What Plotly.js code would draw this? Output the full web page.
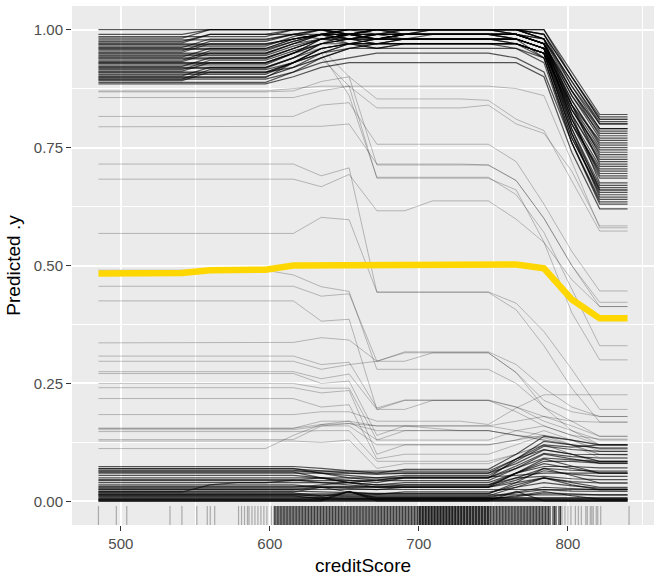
<!DOCTYPE html>
<html><head><meta charset="utf-8">
<script src="https://cdn.plot.ly/plotly-3.0.1.min.js"></script>
<style>html,body{margin:0;padding:0;background:#fff}</style>
</head><body><div id="chart" style="width:654px;height:576px"></div>
<script>
// grid of creditScore values used for the ICE / PDP curves
const gridX = [485,503.7,522.4,541.1,559.7,578.4,597.1,615.8,634.5,653.2,671.8,690.5,709.2,727.9,746.6,765.3,783.9,802.6,821.3,840];

// partial dependence (average) curve
const pdpY = [0.483,0.483,0.483,0.484,0.49,0.491,0.491,0.5,0.5,0.5,0.5,0.5,0.5,0.5,0.5,0.502,0.494,0.428,0.388,0.388];

// ICE curves – high group
const iceHigh = [
[1,1,1,1,1,1,1,1,1,1,1,1,1,1,1,1,1,.91,.82,.82],
[.982,.982,.982,.982,1,1,1,1,1,1,1,1,1,1,1,1,.99,.9,.81,.81],
[.978,.978,.978,.978,.978,.978,.978,.99,1,.99,.98,.99,.99,.99,.99,.99,.98,.89,.8,.8],
[.972,.972,.972,.972,.99,.99,.99,1,1,.99,1,1,1,1,1,.99,.98,.88,.79,.79],
[.968,.968,.968,.968,.968,.968,.968,.98,.99,.98,.99,.99,.99,.99,.99,.99,.97,.86,.78,.78],
[.962,.962,.962,.962,.98,.98,.98,.99,1,1,.99,1,1,1,1,1,.98,.87,.775,.775],
[.958,.958,.958,.958,.958,.958,.958,.975,.99,.98,.97,.98,.98,.98,.98,.97,.95,.84,.765,.765],
[.952,.952,.952,.952,.97,.97,.97,.98,.99,1,1,.99,.99,.99,.99,.99,.97,.85,.755,.755],
[.948,.948,.948,.948,.948,.948,.948,.97,.98,.97,.96,.97,.97,.97,.97,.97,.95,.83,.745,.745],
[.942,.942,.942,.942,.96,.96,.96,.98,.99,.99,.98,.99,.99,.99,.99,.99,.97,.84,.735,.735],
[.938,.938,.938,.938,.938,.938,.938,.96,.98,.98,.99,.99,.99,.99,.99,.98,.96,.82,.725,.725],
[.932,.932,.932,.932,.95,.95,.95,.97,.99,1,1,1,1,1,1,1,.98,.84,.715,.715],
[.928,.928,.928,.928,.928,.928,.928,.95,.97,.97,.96,.97,.97,.97,.97,.97,.95,.8,.705,.705],
[.922,.922,.922,.922,.94,.94,.94,.96,.98,.99,.99,.99,.99,.99,.99,.98,.96,.81,.695,.695],
[.918,.918,.918,.918,.918,.918,.918,.94,.97,.98,.98,.99,.99,.99,.99,.99,.97,.8,.685,.685],
[.912,.912,.912,.912,.93,.93,.93,.95,.98,.99,1,1,1,1,1,1,.98,.82,.675,.675],
[.908,.908,.908,.908,.908,.908,.908,.93,.96,.97,.97,.97,.97,.97,.97,.97,.95,.78,.665,.665],
[.902,.902,.902,.902,.92,.92,.92,.94,.97,.98,.98,.98,.98,.98,.98,.98,.96,.79,.66,.66],
[.898,.898,.898,.898,.898,.898,.898,.93,.96,.97,.98,.98,.98,.98,.98,.98,.94,.77,.655,.655],
[.892,.892,.892,.892,.91,.91,.91,.92,.95,.97,.97,.97,.97,.97,.97,.97,.95,.78,.645,.645],
[.888,.888,.888,.888,.888,.888,.888,.91,.94,.96,.97,.97,.97,.97,.97,.96,.93,.76,.635,.635],
[.985,.985,.985,.985,.985,.985,.985,1,1,.98,.99,1,1,1,1,1,.99,.9,.815,.815],
[.975,.975,.975,.975,.99,.99,.99,.99,.98,.99,1,.99,1,1,1,1,.98,.89,.805,.805],
[.965,.965,.965,.965,.965,.965,.965,.985,1,.99,.98,.99,1,1,1,.99,.97,.87,.79,.79],
[.955,.955,.955,.955,.975,.975,.975,.99,.99,.98,.99,.99,.99,.99,.99,.99,.97,.86,.77,.77],
[.945,.945,.945,.945,.945,.945,.945,.965,.98,.99,.99,.98,.98,.98,.98,.98,.96,.84,.75,.75],
[.935,.935,.935,.935,.955,.955,.955,.975,.99,.97,.98,.99,.99,.99,.99,.99,.97,.83,.73,.73],
[.925,.925,.925,.925,.925,.925,.925,.95,.98,.98,.97,.98,.98,.98,.98,.98,.96,.81,.71,.71],
[.915,.915,.915,.915,.935,.935,.935,.955,.97,.99,.99,.99,.99,.99,.99,.99,.97,.81,.69,.69],
[.905,.905,.905,.905,.905,.905,.905,.93,.96,.97,.98,.98,.98,.98,.98,.97,.95,.79,.67,.67],
[.895,.895,.895,.895,.915,.915,.915,.93,.95,.96,.97,.97,.97,.97,.97,.97,.95,.78,.65,.65],
[.96,.96,.96,.96,.96,.96,.96,.98,.99,1,1,1,1,1,1,1,.99,.88,.8,.8],
[.95,.95,.95,.95,.95,.95,.95,.97,.99,.99,.98,.99,.99,.99,.99,.98,.96,.85,.76,.76],
[.94,.94,.94,.94,.94,.94,.94,.96,.98,.99,1,1,1,1,1,.99,.97,.83,.74,.74],
[.93,.93,.93,.93,.93,.93,.93,.95,.97,.98,.98,.98,.98,.98,.98,.98,.96,.82,.72,.72],
[.92,.92,.92,.92,.92,.92,.92,.94,.96,.97,.97,.98,.98,.98,.98,.98,.96,.8,.7,.7],
[.97,.97,.97,.97,.97,.97,.97,.98,.99,.99,.98,.98,.99,.99,.99,.99,.97,.87,.785,.785],
[.99,.99,.99,.99,1,1,1,1,1,.99,1,1,1,1,1,1,1,.9,.81,.81],
[.9,.9,.9,.9,.9,.9,.9,.92,.94,.96,.96,.96,.96,.96,.96,.96,.94,.76,.64,.64],
[.91,.91,.91,.91,.91,.91,.91,.93,.95,.97,.97,.97,.97,.97,.97,.97,.94,.77,.66,.66],
[.885,.885,.885,.885,.885,.885,.885,.9,.92,.93,.93,.93,.93,.93,.93,.93,.9,.74,.62,.62],
[.895,.895,.895,.895,.895,.895,.895,.91,.93,.94,.95,.95,.95,.95,.95,.94,.91,.76,.63,.63]
];

// ICE curves – middle group
const iceMid = [
[.87,.87,.87,.87,.87,.87,.87,.875,.88,.88,.88,.88,.88,.88,.88,.875,.86,.72,.58,.58],
[.868,.868,.868,.868,.868,.868,.868,.87,.89,.9,.853,.853,.853,.853,.85,.81,.786,.68,.573,.573],
[.856,.856,.856,.856,.856,.856,.856,.856,.87,.88,.834,.834,.834,.834,.84,.8,.78,.7,.584,.584],
[.816,.816,.816,.816,.816,.816,.816,.816,.84,.845,.757,.757,.757,.757,.757,.72,.63,.53,.446,.446],
[.794,.794,.794,.794,.794,.794,.794,.794,.795,.8,.715,.715,.715,.715,.713,.68,.6,.5,.422,.422],
[.715,.715,.715,.715,.715,.715,.715,.715,.69,.707,.443,.443,.443,.443,.443,.406,.33,.24,.168,.168],
[.683,.683,.683,.683,.683,.683,.683,.683,.667,.693,.616,.616,.637,.637,.637,.598,.549,.47,.413,.413],
[.93,.93,.93,.93,.93,.93,.93,.95,.96,.9,.713,.713,.713,.713,.713,.68,.6,.5,.413,.413],
[.9,.9,.9,.9,.9,.9,.9,.92,.94,.88,.685,.685,.685,.685,.685,.66,.55,.4,.3,.3],
[.91,.91,.91,.91,.91,.91,.91,.93,.95,.86,.687,.687,.687,.687,.687,.65,.57,.45,.33,.33],
[.568,.568,.568,.568,.568,.568,.568,.568,.602,.597,.444,.444,.444,.444,.444,.42,.36,.28,.195,.195],
[.456,.456,.456,.456,.456,.456,.456,.456,.435,.44,.297,.297,.315,.315,.315,.273,.2,.15,.12,.12],
[.425,.425,.425,.425,.425,.425,.425,.425,.382,.386,.195,.195,.214,.214,.214,.19,.16,.14,.132,.132],
[.49,.49,.49,.49,.49,.49,.49,.48,.455,.445,.28,.28,.28,.28,.28,.25,.2,.17,.138,.138],
[.336,.336,.336,.336,.336,.336,.336,.337,.347,.342,.297,.317,.317,.317,.317,.29,.24,.2,.18,.18],
[.308,.308,.308,.308,.308,.308,.308,.308,.29,.295,.198,.215,.215,.215,.215,.2,.17,.15,.13,.13],
[.297,.297,.297,.297,.297,.297,.297,.297,.28,.29,.297,.315,.315,.315,.315,.273,.214,.19,.18,.18],
[.275,.275,.275,.275,.275,.275,.275,.275,.26,.27,.195,.214,.214,.214,.214,.2,.18,.17,.168,.168],
[.271,.271,.271,.271,.271,.271,.271,.271,.25,.255,.14,.16,.16,.16,.16,.15,.14,.13,.12,.12],
[.25,.25,.25,.25,.25,.25,.25,.25,.24,.24,.13,.15,.15,.15,.15,.14,.13,.12,.113,.113],
[.241,.241,.241,.241,.241,.241,.241,.241,.23,.235,.1,.12,.12,.12,.12,.13,.15,.13,.11,.11],
[.218,.218,.218,.218,.218,.218,.218,.218,.2,.205,.09,.1,.1,.1,.1,.12,.14,.12,.1,.1],
[.184,.184,.184,.184,.184,.184,.184,.184,.19,.19,.17,.17,.17,.17,.163,.198,.226,.226,.226,.226],
[.155,.155,.155,.155,.155,.155,.155,.155,.163,.17,.16,.16,.16,.16,.16,.17,.18,.16,.138,.138],
[.155,.155,.155,.155,.155,.155,.155,.155,.17,.17,.13,.13,.13,.13,.13,.15,.16,.14,.12,.12],
[.152,.152,.152,.152,.152,.152,.152,.152,.16,.16,.12,.12,.12,.12,.12,.13,.14,.13,.106,.106],
[.131,.131,.131,.131,.131,.131,.131,.131,.16,.165,.16,.16,.155,.15,.15,.14,.13,.12,.099,.099],
[.112,.112,.112,.112,.112,.112,.112,.14,.163,.165,.15,.15,.15,.15,.15,.14,.135,.12,.092,.092],
[.148,.148,.148,.148,.148,.148,.148,.148,.15,.15,.085,.085,.085,.085,.085,.1,.12,.1,.085,.085],
[.128,.128,.128,.128,.128,.128,.128,.128,.125,.13,.07,.08,.08,.08,.08,.1,.12,.1,.08,.08]
];

// ICE curves – low group
const iceLow = [
[.074,.074,.074,.074,.074,.074,.074,.074,.07,.065,.06,.068,.068,.068,.068,.1,.138,.13,.12,.12],
[.069,.069,.069,.069,.069,.069,.069,.069,.065,.06,.057,.06,.06,.06,.06,.09,.127,.12,.113,.113],
[.066,.066,.066,.066,.066,.066,.066,.066,.06,.055,.05,.055,.055,.055,.055,.085,.117,.11,.106,.106],
[.06,.06,.06,.06,.06,.06,.06,.06,.06,.06,.06,.06,.06,.06,.06,.08,.109,.1,.099,.099],
[.055,.055,.055,.055,.055,.055,.055,.055,.05,.045,.04,.05,.05,.05,.05,.075,.102,.095,.092,.092],
[.05,.05,.05,.05,.05,.05,.05,.05,.05,.05,.05,.05,.05,.05,.05,.07,.092,.088,.085,.085],
[.046,.046,.046,.046,.046,.046,.046,.046,.04,.035,.03,.03,.03,.03,.03,.06,.085,.085,.081,.081],
[.04,.04,.04,.04,.04,.04,.04,.04,.04,.04,.035,.04,.04,.04,.04,.06,.074,.074,.071,.071],
[.035,.035,.035,.035,.035,.035,.035,.035,.03,.028,.025,.03,.03,.03,.03,.05,.07,.066,.064,.064],
[.03,.03,.03,.03,.03,.03,.03,.03,.035,.04,.045,.052,.052,.052,.052,.055,.06,.06,.06,.06],
[.028,.028,.028,.028,.028,.028,.028,.028,.03,.03,.03,.03,.03,.03,.03,.045,.065,.058,.053,.053],
[.025,.025,.025,.025,.025,.025,.025,.025,.03,.03,.03,.035,.035,.035,.035,.05,.053,.048,.046,.046],
[.022,.022,.022,.022,.022,.022,.022,.022,.02,.018,.017,.017,.017,.017,.017,.035,.05,.042,.039,.039],
[.02,.02,.02,.02,.02,.02,.02,.02,.03,.02,.015,.02,.02,.02,.02,.03,.04,.033,.028,.028],
[.018,.018,.018,.018,.018,.018,.018,.018,.012,.01,.01,.01,.01,.01,.01,.02,.03,.027,.025,.025],
[.015,.015,.015,.015,.015,.015,.015,.015,.01,.02,.008,.008,.008,.008,.008,.018,.025,.022,.021,.021],
[.012,.012,.012,.012,.012,.012,.012,.012,.005,.021,.005,.005,.005,.005,.005,.012,.021,.012,.005,.005],
[.01,.01,.01,.01,.01,.01,.01,.01,.008,.006,.006,.006,.006,.006,.006,.01,.018,.016,.014,.014],
[.008,.008,.008,.008,.008,.008,.008,.008,.008,.008,.008,.008,.008,.008,.008,.008,.008,.008,.008,.008],
[.006,.006,.006,.006,.006,.006,.006,.006,.006,.006,.006,.006,.006,.006,.006,.006,.006,.006,.006,.006],
[.004,.004,.004,.004,.004,.004,.004,.004,.004,.004,.004,.004,.004,.004,.003,.003,.003,.003,.003,.003],
[.002,.002,.002,.002,.002,.002,.002,.002,.002,.002,.002,.002,.002,.002,.002,.002,.002,.002,.002,.002],
[0,0,0,0,0,0,0,0,0,0,0,0,0,0,0,0,0,0,0,0],
[.001,.001,.001,.001,.001,.001,.001,.001,.001,.021,.001,.001,.001,.001,.001,.021,.001,.001,.001,.001],
[.07,.07,.07,.07,.07,.07,.07,.07,.06,.05,.045,.05,.05,.05,.05,.09,.12,.115,.12,.12],
[.064,.064,.064,.064,.064,.064,.064,.064,.064,.064,.064,.064,.064,.064,.064,.09,.11,.1,.085,.085],
[.044,.044,.044,.044,.044,.044,.044,.044,.044,.044,.044,.044,.044,.044,.044,.07,.1,.09,.081,.081],
[.032,.032,.032,.032,.032,.032,.032,.032,.032,.032,.032,.032,.032,.032,.032,.06,.09,.075,.06,.06],
[.016,.016,.016,.016,.016,.016,.016,.016,.016,.016,.016,.016,.016,.016,.016,.04,.07,.055,.039,.039],
[.012,.012,.012,.012,.012,.012,.012,.012,.012,.012,.012,.012,.012,.012,.012,.03,.05,.035,.025,.025],
[.026,.026,.026,.026,.026,.026,.026,.026,.026,.026,.026,.026,.026,.026,.026,.025,.025,.025,.025,.025],
[.014,.014,.014,.014,.014,.014,.014,.014,.014,.014,.014,.014,.014,.014,.014,.014,.014,.014,.014,.014],
[.003,.003,.003,.003,.003,.003,.003,.003,.003,.003,.003,.003,.003,.003,.003,.003,.003,.003,.003,.003],
[.005,.005,.005,.005,.005,.005,.005,.005,.005,.005,.005,.005,.005,.005,.005,.005,.005,.005,.005,.005],
[.02,.02,.02,.02,.035,.04,.04,.045,.05,.04,.03,.03,.03,.03,.03,.04,.05,.04,.03,.03],
[.062,.062,.062,.062,.062,.062,.062,.062,.05,.04,.035,.035,.035,.035,.035,.06,.08,.07,.06,.06]
];

// observed creditScore values (rug): sparse tails and dense core
const rugSparse = [485,497,504,533,541,551,558,560,563,579,581,583,585,586,588,590,592,594,596,598,601,
796,798,800,802,805,807,809,812,813,815,816,817,819,820,822,841];
const rugDense = [603,604,605,606,607,608,609,610,611,612,613,614,615,616,617,618,619,620,621,622,623,624,625,626,627,628,629,630,631,632,633,634,635,636,637,638,639,640,641,642,643,644,645,646,647,648,649,650,651,652,653,654,655,656,657,658,659,660,661,662,663,664,665,666,667,668,669,670,671,672,673,674,675,676,677,678,679,680,681,682,683,684,685,686,687,688,689,690,691,692,693,694,695,696,697,698,699,
700,700.5,701,702,702.5,703,704,704.5,705,706,706.5,707,708,708.5,709,710,710.5,711,712,712.5,713,714,714.5,715,716,716.5,717,718,718.5,719,720,720.5,721,722,722.5,723,724,724.5,725,726,726.5,727,728,728.5,729,730,730.5,731,732,732.5,733,734,734.5,735,736,736.5,737,738,738.5,739,740,740.5,741,742,742.5,743,744,744.5,745,746,746.5,747,748,749,
750,751,752,753,754,755,756,757,758,759,760,761,762,763,764,765,766,767,768,769,770,771,772,773,774,775,776,777,778,779,780,781,782,783,784,785,786,787,788,790,791,792,794,795];

const traces = [];
function addGroup(arr, color, width) {
  arr.forEach(yv => traces.push({
    x: gridX, y: yv, type: 'scatter', mode: 'lines',
    line: {color: color, width: width}, hoverinfo: 'skip', showlegend: false
  }));
}
addGroup(iceHigh, 'rgba(0,0,0,0.65)', 1.2);
addGroup(iceMid, 'rgba(0,0,0,0.27)', 0.9);
addGroup(iceLow, 'rgba(0,0,0,0.65)', 1.2);
traces.push({x: gridX, y: pdpY, type: 'scatter', mode: 'lines',
  line: {color: '#FFD700', width: 6.5}, showlegend: false});
function addRug(xs, color) {
  traces.push({x: xs, y: xs.map(() => -0.0335), type: 'scatter', mode: 'markers',
    marker: {symbol: 'line-ns-open', size: 16, color: color, line: {color: color, width: 1.2}},
    showlegend: false, hoverinfo: 'skip'});
}
addRug(rugSparse, 'rgba(0,0,0,0.28)');
addRug(rugDense, 'rgba(0,0,0,0.75)');

const font = 'Liberation Sans, Arial, sans-serif';
const layout = {
  width: 654, height: 576,
  margin: {l: 72, r: 0, t: 6, b: 51},
  paper_bgcolor: '#FFFFFF', plot_bgcolor: '#EBEBEB',
  font: {family: font, color: '#4D4D4D'},
  showlegend: false,
  xaxis: {
    range: [467.25, 857.75], tickvals: [500, 600, 700, 800], ticktext: ['500','600','700','800'],
    ticks: 'outside', ticklen: 5, tickwidth: 1.1, tickcolor: '#333333',
    tickfont: {size: 15, color: '#4D4D4D', family: font},
    showgrid: true, gridcolor: '#FFFFFF', gridwidth: 2, zeroline: false, showline: false,
    minor: {tickvals: [550, 650, 750, 850], showgrid: true, gridcolor: '#FFFFFF', gridwidth: 1, ticks: ''},
    title: {text: 'creditScore', font: {size: 19, color: '#000000', family: font}, standoff: 7},
    automargin: false
  },
  yaxis: {
    range: [-0.05, 1.05], tickvals: [0, 0.25, 0.5, 0.75, 1], ticktext: ['0.00','0.25','0.50','0.75','1.00'],
    ticks: 'outside', ticklen: 5, tickwidth: 1.1, tickcolor: '#333333',
    tickfont: {size: 15, color: '#4D4D4D', family: font},
    showgrid: true, gridcolor: '#FFFFFF', gridwidth: 2, zeroline: false, showline: false,
    minor: {tickvals: [0.125, 0.375, 0.625, 0.875], showgrid: true, gridcolor: '#FFFFFF', gridwidth: 1, ticks: ''},
    title: {text: 'Predicted .y', font: {size: 19, color: '#000000', family: font}, standoff: 8},
    automargin: false
  }
};
Plotly.newPlot('chart', traces, layout, {staticPlot: true, displayModeBar: false});
</script>
</body></html>
